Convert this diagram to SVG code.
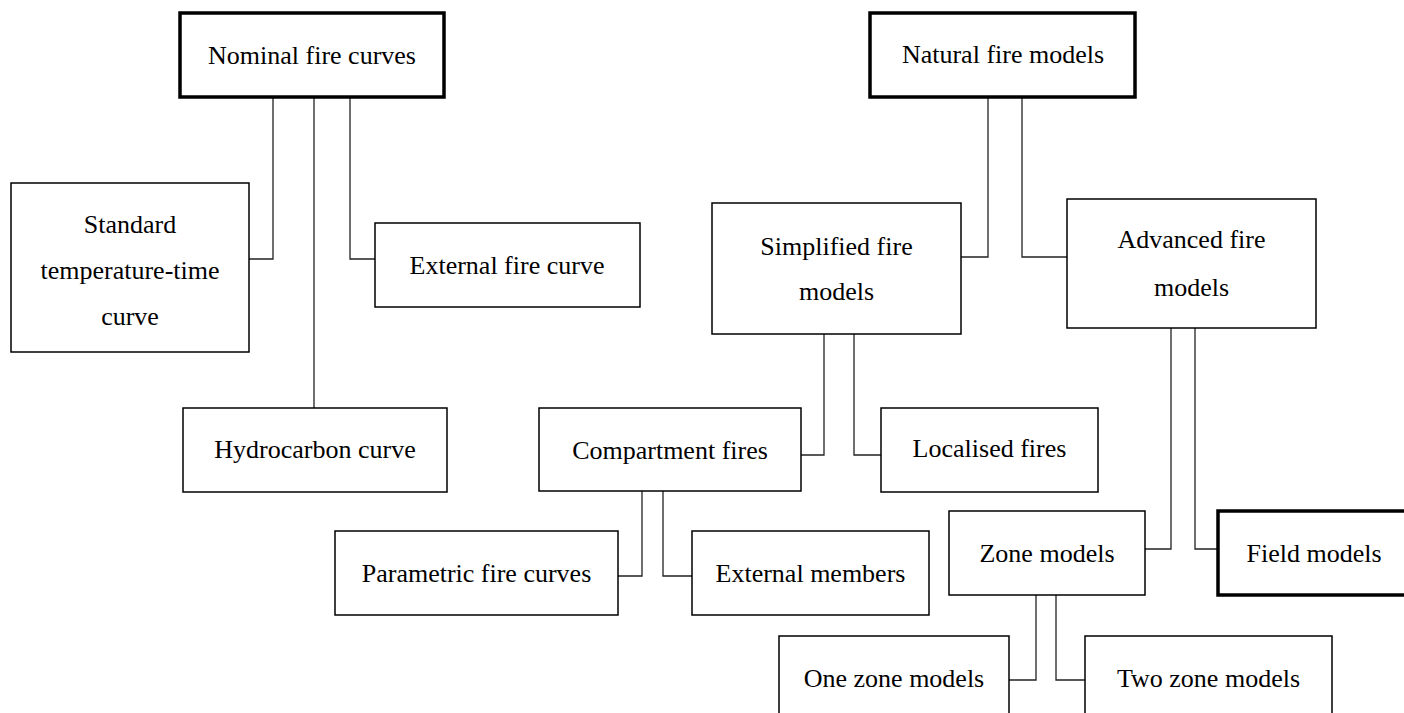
<svg xmlns="http://www.w3.org/2000/svg" width="1404" height="713" viewBox="0 0 1404 713">
<style>
.box{fill:#fff;stroke:#000;stroke-width:1.5}
.thick{fill:#fff;stroke:#000;stroke-width:3.5}
.t{font-family:"Liberation Serif","Times New Roman",serif;font-size:26px;fill:#000;text-anchor:middle}
.c{fill:none;stroke:#222;stroke-width:1.3}
</style>
<rect width="1404" height="713" fill="#fff"/>
<g id="connectors">
<path class="c" d="M273,97V259H249"/>
<path class="c" d="M314,97V408"/>
<path class="c" d="M350,97V259H375"/>
<path class="c" d="M988,97V257H961"/>
<path class="c" d="M1022,97V257H1067"/>
<path class="c" d="M824,334V455H801"/>
<path class="c" d="M854,334V455H881"/>
<path class="c" d="M642,491V576H618"/>
<path class="c" d="M663,491V576H692"/>
<path class="c" d="M1171,328V549H1145"/>
<path class="c" d="M1195,328V549H1218"/>
<path class="c" d="M1036,595V680H1009"/>
<path class="c" d="M1056,595V680H1085"/>
</g>
<g id="nominal"><rect class="thick" x="180" y="13" width="264" height="84"/><text class="t" x="312" y="64">Nominal fire curves</text></g>
<g id="natural"><rect class="thick" x="870" y="13" width="265" height="84"/><text class="t" x="1003" y="63">Natural fire models</text></g>
<g id="standard"><rect class="box" x="11" y="183" width="238" height="169"/><text class="t" x="130" y="233">Standard</text><text class="t" x="130" y="279">temperature-time</text><text class="t" x="130" y="325">curve</text></g>
<g id="external-fire"><rect class="box" x="375" y="223" width="265" height="84"/><text class="t" x="507" y="274">External fire curve</text></g>
<g id="simplified"><rect class="box" x="712" y="203" width="249" height="131"/><text class="t" x="836.5" y="255">Simplified fire</text><text class="t" x="836.5" y="300">models</text></g>
<g id="advanced"><rect class="box" x="1067" y="199" width="249" height="129"/><text class="t" x="1191.5" y="248">Advanced fire</text><text class="t" x="1191.5" y="296">models</text></g>
<g id="hydrocarbon"><rect class="box" x="183" y="408" width="264" height="84"/><text class="t" x="315" y="458">Hydrocarbon curve</text></g>
<g id="compartment"><rect class="box" x="539" y="408" width="262" height="83"/><text class="t" x="670" y="459">Compartment fires</text></g>
<g id="localised"><rect class="box" x="881" y="408" width="217" height="84"/><text class="t" x="989.5" y="457">Localised fires</text></g>
<g id="parametric"><rect class="box" x="335" y="531" width="283" height="84"/><text class="t" x="476.5" y="582">Parametric fire curves</text></g>
<g id="external-members"><rect class="box" x="692" y="531" width="237" height="84"/><text class="t" x="810.5" y="582">External members</text></g>
<g id="zone"><rect class="box" x="949" y="511" width="196" height="84"/><text class="t" x="1047" y="562">Zone models</text></g>
<g id="field"><rect class="thick" x="1218" y="511" width="192" height="84"/><text class="t" x="1314" y="562">Field models</text></g>
<g id="one-zone"><rect class="box" x="779" y="636" width="230" height="90"/><text class="t" x="894" y="687">One zone models</text></g>
<g id="two-zone"><rect class="box" x="1085" y="636" width="247" height="90"/><text class="t" x="1208.5" y="687">Two zone models</text></g>
</svg>
